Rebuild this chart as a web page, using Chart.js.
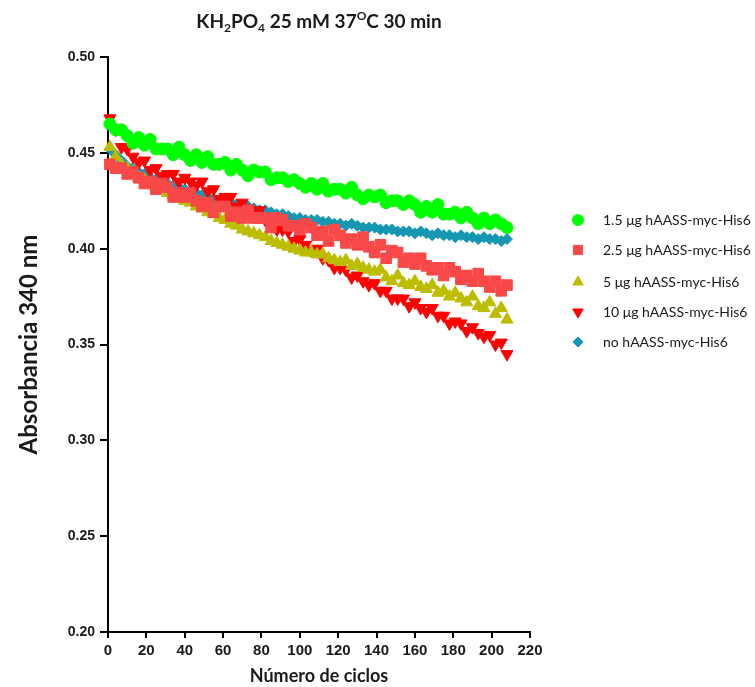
<!DOCTYPE html>
<html>
<head>
<meta charset="utf-8">
<script src="https://cdn.jsdelivr.net/npm/chart.js@4.4.1/dist/chart.umd.min.js"></script>
<style>
  html, body { margin: 0; padding: 0; background: #fff; }
</style>
</head>
<body>
<canvas id="abs-chart" width="755" height="687"></canvas>
<script>
// ============================================================
// Absorbancia 340 nm vs. numero de ciclos (KH2PO4 25 mM, 37 C)
// ============================================================

const CYCLES = [1, 4, 7, 10, 13, 16, 19, 22, 25, 28, 31, 34, 37, 40, 43, 46, 49, 52, 55, 58,
  61, 64, 67, 70, 73, 76, 79, 82, 85, 88, 91, 94, 97, 100, 103, 106, 109, 112, 115, 118,
  121, 124, 127, 130, 133, 136, 139, 142, 145, 148, 151, 154, 157, 160, 163, 166, 169, 172, 175, 178,
  181, 184, 187, 190, 193, 196, 199, 202, 205, 208];

const ABS_1_5UG = [0.465, 0.462, 0.462, 0.459, 0.455, 0.458, 0.454, 0.457, 0.452, 0.452,
  0.452, 0.449, 0.453, 0.449, 0.446, 0.449, 0.445, 0.448, 0.444, 0.444,
  0.445, 0.441, 0.444, 0.441, 0.438, 0.441, 0.440, 0.440, 0.436, 0.437,
  0.437, 0.435, 0.436, 0.434, 0.432, 0.434, 0.431, 0.434, 0.430, 0.431,
  0.431, 0.429, 0.432, 0.428, 0.426, 0.428, 0.427, 0.428, 0.424, 0.425,
  0.425, 0.423, 0.425, 0.423, 0.419, 0.422, 0.419, 0.423, 0.418, 0.418,
  0.419, 0.416, 0.419, 0.416, 0.413, 0.416, 0.413, 0.415, 0.413, 0.411];

const ABS_2_5UG = [0.444, 0.442, 0.442, 0.439, 0.440, 0.437, 0.434, 0.435, 0.431, 0.434,
  0.432, 0.427, 0.429, 0.427, 0.429, 0.425, 0.422, 0.424, 0.419, 0.422,
  0.422, 0.417, 0.419, 0.416, 0.420, 0.416, 0.416, 0.416, 0.411, 0.416,
  0.415, 0.412, 0.412, 0.410, 0.413, 0.411, 0.407, 0.409, 0.404, 0.410,
  0.407, 0.403, 0.405, 0.402, 0.406, 0.401, 0.398, 0.402, 0.395, 0.399,
  0.398, 0.393, 0.395, 0.392, 0.395, 0.391, 0.389, 0.390, 0.386, 0.390,
  0.388, 0.384, 0.386, 0.383, 0.387, 0.383, 0.380, 0.383, 0.378, 0.381];

const ABS_5UG = [0.453, 0.448, 0.444, 0.442, 0.440, 0.437, 0.436, 0.434, 0.432, 0.431,
  0.429, 0.428, 0.426, 0.425, 0.424, 0.422, 0.421, 0.419, 0.418, 0.416,
  0.415, 0.413, 0.412, 0.410, 0.409, 0.408, 0.407, 0.406, 0.404, 0.403,
  0.402, 0.401, 0.400, 0.399, 0.398, 0.398, 0.397, 0.397, 0.395, 0.394,
  0.393, 0.394, 0.391, 0.392, 0.390, 0.389, 0.388, 0.389, 0.385, 0.383,
  0.386, 0.382, 0.381, 0.383, 0.380, 0.379, 0.381, 0.377, 0.378, 0.375,
  0.377, 0.374, 0.372, 0.375, 0.370, 0.369, 0.372, 0.366, 0.369, 0.363];

const ABS_10UG = [0.468, 0.462, 0.453, 0.452, 0.448, 0.445, 0.446, 0.441, 0.442, 0.438,
  0.439, 0.439, 0.435, 0.437, 0.435, 0.433, 0.435, 0.430, 0.431, 0.426,
  0.427, 0.427, 0.422, 0.424, 0.421, 0.418, 0.420, 0.415, 0.415, 0.410,
  0.410, 0.409, 0.404, 0.405, 0.402, 0.399, 0.400, 0.395, 0.394, 0.390,
  0.390, 0.389, 0.385, 0.386, 0.383, 0.381, 0.382, 0.378, 0.378, 0.374,
  0.374, 0.374, 0.370, 0.372, 0.369, 0.367, 0.369, 0.365, 0.365, 0.361,
  0.362, 0.361, 0.357, 0.359, 0.356, 0.354, 0.355, 0.350, 0.351, 0.345];

const ABS_NO_ENZ = [0.452, 0.449, 0.446, 0.443, 0.442, 0.440, 0.439, 0.437, 0.436, 0.435,
  0.434, 0.433, 0.432, 0.431, 0.430, 0.429, 0.428, 0.427, 0.426, 0.425,
  0.425, 0.424, 0.423, 0.422, 0.422, 0.421, 0.420, 0.420, 0.419, 0.418,
  0.418, 0.417, 0.416, 0.416, 0.415, 0.415, 0.415, 0.414, 0.414, 0.413,
  0.413, 0.412, 0.413, 0.412, 0.411, 0.411, 0.411, 0.410, 0.410, 0.410,
  0.409, 0.409, 0.409, 0.408, 0.409, 0.408, 0.407, 0.408, 0.407, 0.407,
  0.406, 0.407, 0.406, 0.406, 0.405, 0.406, 0.405, 0.405, 0.404, 0.405];

const SERIES_LABELS = [
  '1.5 \u03bcg hAASS-myc-His6',
  '2.5 \u03bcg hAASS-myc-His6',
  '5 \u03bcg hAASS-myc-His6',
  '10 \u03bcg hAASS-myc-His6',
  'no hAASS-myc-His6'
];

const COLORS = {
  green: '#00ff00',
  salmon: '#f84848',
  olive: '#bdbd00',
  red: '#ff0000',
  teal: '#1597b2',
  axis: '#000000',
  text: '#1a1a1a'
};

const toPoints = values => CYCLES.map((c, i) => ({ x: c, y: values[i] }));

function makeDataset(label, values, color, style, radius, rotation) {
  return {
    label,
    data: toPoints(values),
    backgroundColor: color,
    borderColor: color,
    borderWidth: 1,
    pointStyle: style,
    pointRadius: radius,
    pointHoverRadius: radius,
    pointRotation: rotation || 0,
    showLine: false,
    clip: false
  };
}

// Title with sub/superscripts (KH2PO4 ... 37 oC)
const titlePlugin = {
  id: 'subTitle',
  afterDraw(chart) {
    const ctx = chart.ctx;
    const big = 'bold 19px Lato';
    const small = 'bold 12px Lato';
    const parts = [
      { t: 'KH', f: big, dy: 0 },
      { t: '2', f: small, dy: 4 },
      { t: 'PO', f: big, dy: 0 },
      { t: '4', f: small, dy: 4 },
      { t: ' 25 mM 37', f: big, dy: 0 },
      { t: 'O', f: small, dy: -8 },
      { t: 'C 30 min', f: big, dy: 0 }
    ];
    ctx.save();
    ctx.fillStyle = COLORS.text;
    ctx.textBaseline = 'alphabetic';
    ctx.textAlign = 'left';
    let total = 0;
    parts.forEach(p => { ctx.font = p.f; total += ctx.measureText(p.t).width; });
    let x = 319 - total / 2;
    const y = 28;
    parts.forEach(p => {
      ctx.font = p.f;
      ctx.fillText(p.t, x, y + p.dy);
      x += ctx.measureText(p.t).width;
    });
    ctx.restore();
  }
};

// Legend on the right, one marker + label per dataset
const sideLegend = {
  id: 'sideLegend',
  afterDraw(chart) {
    const ctx = chart.ctx;
    const markerX = 578;
    const textX = 603;
    const rows = [220, 250, 282, 312, 342];
    const legendRadius = [5.5, 6.5, 6, 6, 5];
    ctx.save();
    chart.data.datasets.forEach((ds, i) => {
      const y = rows[i];
      ctx.fillStyle = ds.backgroundColor;
      ctx.strokeStyle = ds.borderColor;
      ctx.lineWidth = 1;
      Chart.helpers.drawPoint(ctx, {
        pointStyle: ds.pointStyle,
        radius: legendRadius[i],
        rotation: ds.pointRotation,
        borderWidth: 1
      }, markerX, y);
      ctx.fillStyle = COLORS.text;
      ctx.font = '14px Lato';
      ctx.textBaseline = 'middle';
      ctx.textAlign = 'left';
      ctx.fillText(ds.label, textX, y);
    });
    ctx.restore();
  }
};

const canvas = document.getElementById('abs-chart');

new Chart(canvas, {
  type: 'scatter',
  data: {
    datasets: [
      makeDataset(SERIES_LABELS[0], ABS_1_5UG, COLORS.green, 'circle', 6),
      makeDataset(SERIES_LABELS[1], ABS_2_5UG, COLORS.salmon, 'rect', 7.5),
      makeDataset(SERIES_LABELS[2], ABS_5UG, COLORS.olive, 'triangle', 7),
      makeDataset(SERIES_LABELS[3], ABS_10UG, COLORS.red, 'triangle', 7, 180),
      makeDataset(SERIES_LABELS[4], ABS_NO_ENZ, COLORS.teal, 'rectRot', 5.5)
    ]
  },
  options: {
    responsive: false,
    animation: false,
    layout: { padding: { left: 0, top: 57, right: 225, bottom: 0 } },
    plugins: {
      legend: { display: false },
      tooltip: { enabled: false },
      title: { display: false }
    },
    scales: {
      x: {
        type: 'linear',
        min: 0,
        max: 220,
        afterFit: s => { s.height = 55; },
        border: { display: true, color: COLORS.axis, width: 2 },
        grid: { drawOnChartArea: false, drawTicks: true, tickLength: 6, color: COLORS.axis, lineWidth: 2 },
        ticks: {
          stepSize: 20,
          color: COLORS.text,
          padding: 4,
          maxRotation: 0,
          font: { family: 'Liberation Sans', weight: 'bold', size: 15 }
        },
        title: {
          display: true,
          text: 'N\u00famero de ciclos',
          color: COLORS.text,
          padding: { top: 0, bottom: 0 },
          font: { family: 'Lato', weight: 'bold', size: 18 }
        }
      },
      y: {
        type: 'linear',
        min: 0.2,
        max: 0.5,
        afterFit: s => { s.width = 108; },
        border: { display: true, color: COLORS.axis, width: 2 },
        grid: { drawOnChartArea: false, drawTicks: true, tickLength: 8, color: COLORS.axis, lineWidth: 2 },
        ticks: {
          stepSize: 0.05,
          color: COLORS.text,
          padding: 5,
          callback: v => Number(v).toFixed(2),
          font: { family: 'Liberation Sans', weight: 'bold', size: 14 }
        },
        title: {
          display: true,
          text: 'Absorbancia 340 nm',
          color: COLORS.text,
          padding: { top: 15, bottom: 0 },
          font: { family: 'Lato', weight: 'bold', size: 24 }
        }
      }
    }
  },
  plugins: [titlePlugin, sideLegend]
});
</script>
</body>
</html>
